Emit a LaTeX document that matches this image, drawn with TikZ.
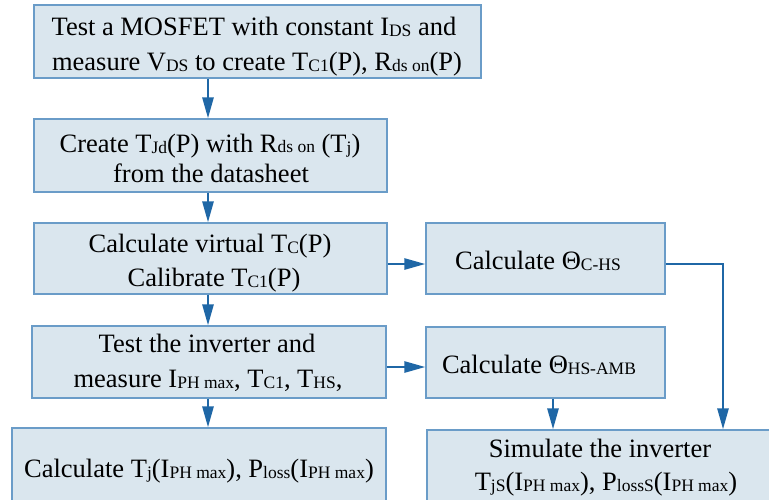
\documentclass[tikz,border=0pt]{standalone}
\usepackage{fontspec}
\setmainfont{Liberation Serif}
\usetikzlibrary{arrows.meta}
\definecolor{boxfill}{HTML}{DAE6EE}
\definecolor{boxline}{HTML}{6A9CC8}
\definecolor{arrowc}{HTML}{1F67A6}
\newcommand\sbs[1]{\raisebox{-1.5pt}{\fontsize{17.5}{18}\selectfont #1}}
\newcommand\smt[1]{{\fontsize{17.5}{18}\selectfont #1}}
\tikzset{
  flowbox/.style={draw=boxline, fill=boxfill, line width=1.2pt, inner sep=0pt},
  flowtext/.style={anchor=base, inner sep=0pt, font=\fontsize{26.5}{32}\selectfont, text=black},
  flowarrow/.style={draw=arrowc, line width=2.6pt,
    -{Triangle[length=21pt,width=11pt]}}
}
\begin{document}
\begin{tikzpicture}[x=1pt,y=-1pt]
\useasboundingbox (0,0) rectangle (769,499);
\clip (0,0) rectangle (769,499);
\fill[white] (0,0) rectangle (769,499);
% boxes
\node[flowbox, minimum width=447pt, minimum height=73pt] (b1) at (257.5,41.5) {};
\node[flowbox, minimum width=353pt, minimum height=73pt] (b2) at (210.5,155.5) {};
\node[flowbox, minimum width=353pt, minimum height=71pt] (b3) at (210.5,258.5) {};
\node[flowbox, minimum width=354pt, minimum height=72pt] (b4) at (209,362) {};
\node[flowbox, minimum width=374pt, minimum height=80pt] (b5) at (199,468) {};
\node[flowbox, minimum width=348pt, minimum height=84pt] (b6) at (601,472) {};
\node[flowbox, minimum width=239pt, minimum height=71pt] (r1) at (545.5,258.5) {};
\node[flowbox, minimum width=239pt, minimum height=71pt] (r2) at (545.5,362.5) {};
% texts
\node[flowtext] (t1a) at (254,35) {Test a MOSFET with constant I\sbs{DS} and};
\node[flowtext] (t1b) at (257,70) {measure V\sbs{DS} to create T\sbs{C1}(P), R\sbs{ds on}(P)};
\node[flowtext] (t2a) at (210,152) {Create T\sbs{Jd}(P) with R\smt{ds on} (T\sbs{j})};
\node[flowtext] (t2b) at (211,182) {from the datasheet};
\node[flowtext] (t3a) at (210,252) {Calculate virtual T\sbs{C}(P)};
\node[flowtext] (t3b) at (214,286) {Calibrate T\sbs{C1}(P)};
\node[flowtext] (t4a) at (207,352) {Test the inverter and};
\node[flowtext] (t4b) at (208,387) {measure I\sbs{PH max}, T\sbs{C1}, T\sbs{HS},};
\node[flowtext] (t5) at (199,477) {Calculate T\sbs{j}(I\sbs{PH max}), P\sbs{loss}(I\sbs{PH max})};
\node[flowtext] (t6a) at (600,457) {Simulate the inverter};
\node[flowtext] (t6b) at (606,490) {T\sbs{jS}(I\sbs{PH max}), P\sbs{lossS}(I\sbs{PH max})};
\node[flowtext] (tr1) at (538,269) {Calculate Θ\sbs{C-HS}};
\node[flowtext] (tr2) at (539,373) {Calculate Θ\sbs{HS-AMB}};
% connectors
\coordinate (colx) at (208,0);
\coordinate (colr2) at (553,0);
\coordinate (colr1) at (723,0);
\coordinate (row3) at (0,264);
\coordinate (row4) at (0,367);
\draw[flowarrow] (b1.south -| colx) -- (b2.north -| colx);
\draw[flowarrow] (b2.south -| colx) -- (b3.north -| colx);
\draw[flowarrow] (b3.south -| colx) -- (b4.north -| colx);
\draw[flowarrow] (b4.south -| colx) -- (b5.north -| colx);
\draw[flowarrow] (b3.east |- row3) -- (r1.west |- row3);
\draw[flowarrow] (b4.east |- row4) -- (r2.west |- row4);
\draw[flowarrow] (r2.south -| colr2) -- (b6.north -| colr2);
\draw[flowarrow] (r1.east |- row3) -| (b6.north -| colr1);
\end{tikzpicture}
\end{document}
